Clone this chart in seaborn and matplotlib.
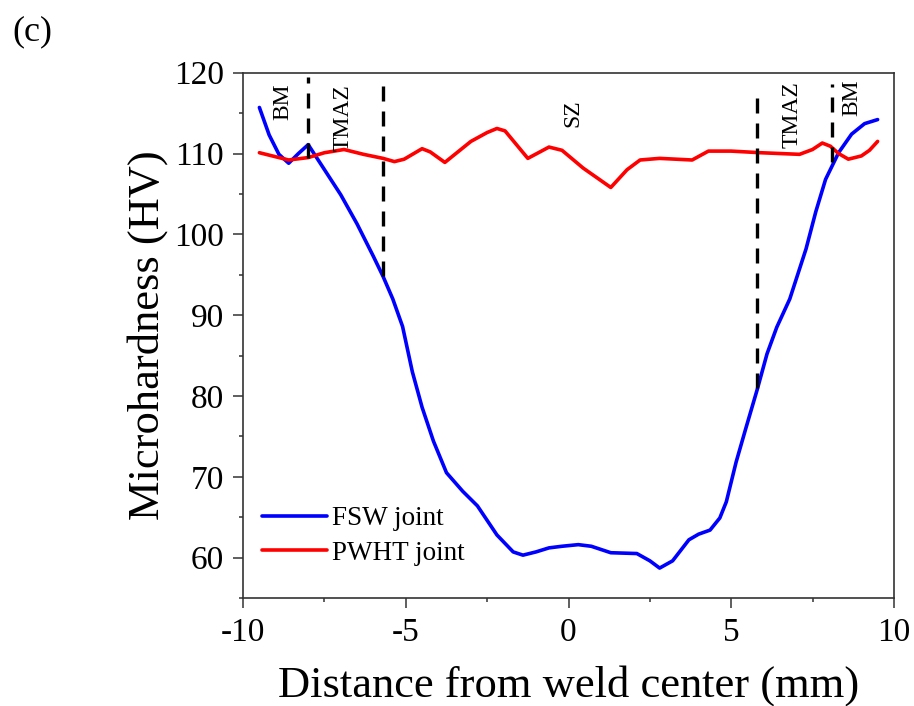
import pandas as pd
import matplotlib.pyplot as plt
import seaborn as sns

# --- data ---
fsw_x = [-9.5, -9.2, -8.9, -8.6, -8.3, -8.0, -7.5, -7.0, -6.5, -6.0, -5.7, -5.4,
         -5.1, -4.8, -4.5, -4.15, -3.75, -3.25, -2.8, -2.2, -1.7, -1.4, -1.0,
         -0.6, -0.2, 0.3, 0.7, 1.3, 2.1, 2.5, 2.8, 3.2, 3.7, 4.0, 4.35, 4.65,
         4.85, 5.15, 5.45, 5.8, 6.1, 6.4, 6.8, 7.3, 7.6, 7.9, 8.3, 8.7, 9.1, 9.5]
fsw_y = [115.7, 112.3, 109.9, 108.8, 110.0, 111.1, 108.0, 104.9, 101.3, 97.3,
         94.8, 92.0, 88.6, 83.0, 78.6, 74.4, 70.5, 68.2, 66.4, 62.8, 60.7, 60.3,
         60.7, 61.2, 61.4, 61.6, 61.4, 60.6, 60.5, 59.6, 58.7, 59.6, 62.2, 62.9,
         63.4, 64.9, 66.9, 71.8, 76.0, 80.8, 85.2, 88.5, 92.0, 98.2, 102.8,
         106.8, 110.1, 112.4, 113.7, 114.2]

pwht_x = [-9.5, -9.0, -8.6, -8.0, -7.5, -6.9, -6.3, -5.7, -5.35, -5.05, -4.5,
          -4.25, -3.8, -3.0, -2.5, -2.2, -1.95, -1.25, -0.6, -0.2, 0.45, 1.3,
          1.8, 2.2, 2.8, 3.3, 3.8, 4.3, 5.0, 5.9, 6.5, 7.1, 7.5, 7.8, 8.05, 8.3,
          8.6, 9.0, 9.25, 9.5]
pwht_y = [110.1, 109.6, 109.2, 109.5, 110.1, 110.5, 109.9, 109.4, 109.0, 109.3,
          110.6, 110.2, 108.9, 111.5, 112.6, 113.1, 112.8, 109.4, 110.8, 110.4,
          108.2, 105.8, 108.0, 109.2, 109.4, 109.3, 109.2, 110.3, 110.3, 110.1,
          110.0, 109.9, 110.5, 111.3, 110.9, 110.0, 109.3, 109.7, 110.4, 111.5]

# zone boundaries (x, y bottom, y top)
bound_x = [-8.0, -5.7, 5.8, 8.1]
bound_ymin = [109.5, 94.8, 81.0, 108.9]
bound_ymax = [119.5, 119.6, 117.7, 118.6]

zone_labels = ['BM', 'TMAZ', 'SZ', 'TMAZ', 'BM']
zone_x = [-8.79, -6.92, 0.14, 6.86, 8.7]
zone_y = [116.4, 114.4, 115.0, 114.8, 116.9]

df = pd.concat([
    pd.DataFrame({'x': fsw_x, 'y': fsw_y, 'joint': 'FSW joint'}),
    pd.DataFrame({'x': pwht_x, 'y': pwht_y, 'joint': 'PWHT joint'}),
])

# --- plot ---
sns.set_style('ticks')
plt.rcParams['font.family'] = ['Liberation Serif', 'DejaVu Serif']
plt.rcParams['axes.unicode_minus'] = False
plt.rcParams['text.color'] = 'black'
plt.rcParams['axes.labelcolor'] = 'black'
plt.rcParams['xtick.color'] = 'black'
plt.rcParams['ytick.color'] = 'black'

fig = plt.figure(figsize=(9.14, 7.06), dpi=100)
ax = fig.add_axes([0.266, 0.153, 0.712, 0.744])

sns.lineplot(data=df, x='x', y='y', hue='joint', sort=False,
             palette={'FSW joint': '#0000ff', 'PWHT joint': '#ff0000'},
             linewidth=2.6, ax=ax)

ax.vlines(bound_x, bound_ymin, bound_ymax, colors='black', linewidth=2.4,
          linestyles=(0, (4.5, 3)))

for lab, tx, ty in zip(zone_labels, zone_x, zone_y):
    ax.text(tx, ty, lab, rotation=90, ha='center', va='center', fontsize=17)

ax.set_xlim(-10, 10)
ax.set_ylim(55, 120)
ax.set_xticks([-10, -5, 0, 5, 10])
ax.set_xticks([-7.5, -2.5, 2.5, 7.5], minor=True)
ax.set_yticks([60, 70, 80, 90, 100, 110, 120])
ax.set_yticks([55, 65, 75, 85, 95, 105, 115], minor=True)

for s in ax.spines.values():
    s.set_color('#333333')
    s.set_linewidth(1.2)
ax.tick_params(which='both', direction='out', color='#333333', width=1.1,
               labelsize=24, labelcolor='black', top=False, right=False)
ax.tick_params(which='major', length=7, pad=7)
ax.tick_params(which='minor', length=3)

ax.set_xlabel('Distance from weld center (mm)', fontsize=32, labelpad=12)
ax.set_ylabel('Microhardness (HV)', fontsize=32, labelpad=4)

ax.legend(loc='lower left', bbox_to_anchor=(0.0, 0.025), frameon=False,
          fontsize=19.5, handlelength=2.4, handletextpad=0.2, labelspacing=0.35,
          borderaxespad=0.3)

fig.text(0.013, 0.955, '(c)', fontsize=26, ha='left', va='center')

plt.savefig('out.png', dpi=100)
